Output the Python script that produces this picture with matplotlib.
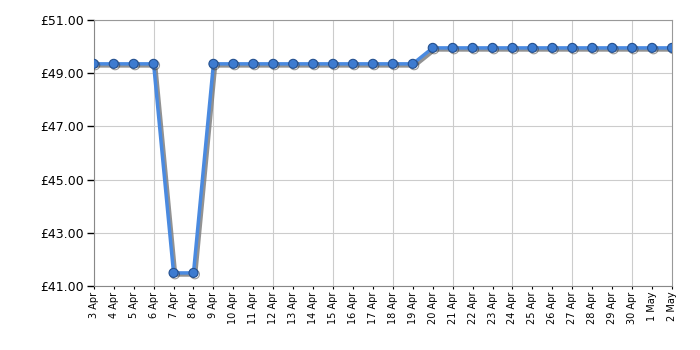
import matplotlib
matplotlib.use('Agg')
import matplotlib.pyplot as plt
import matplotlib.patheffects as pe
from matplotlib.ticker import FuncFormatter, FixedLocator

dates = ['3 Apr', '4 Apr', '5 Apr', '6 Apr', '7 Apr', '8 Apr', '9 Apr', '10 Apr',
         '11 Apr', '12 Apr', '13 Apr', '14 Apr', '15 Apr', '16 Apr', '17 Apr',
         '18 Apr', '19 Apr', '20 Apr', '21 Apr', '22 Apr', '23 Apr', '24 Apr',
         '25 Apr', '26 Apr', '27 Apr', '28 Apr', '29 Apr', '30 Apr', '1 May', '2 May']
prices = [49.35, 49.35, 49.35, 49.35, 41.49, 41.49, 49.35, 49.35,
          49.35, 49.35, 49.35, 49.35, 49.35, 49.35, 49.35,
          49.35, 49.35, 49.95, 49.95, 49.95, 49.95, 49.95,
          49.95, 49.95, 49.95, 49.95, 49.95, 49.95, 49.95, 49.95]
y_ticks = [41, 43, 45, 47, 49, 51]

plt.rcParams['font.family'] = 'DejaVu Sans'

fig = plt.figure(figsize=(7, 3.5), dpi=100)
ax = fig.add_axes([0.134, 0.183, 0.826, 0.760])

x = list(range(len(dates)))
ax.plot(x, prices, color='#4a8ae0', linewidth=2.5, zorder=3,
        path_effects=[pe.SimpleLineShadow(offset=(1.5, -1.5), shadow_color='#777777', alpha=0.8),
                      pe.Normal()])
ax.plot(x, prices, linestyle='none', marker='o', markersize=6.5,
        markerfacecolor='#3d7bd0', markeredgecolor='#24508f', markeredgewidth=0.8, zorder=4,
        path_effects=[pe.SimpleLineShadow(offset=(1.0, -1.0), shadow_color='#333333', alpha=0.5),
                      pe.Normal()])

ax.set_xlim(0, len(dates) - 1)
ax.set_ylim(41, 51)
ax.yaxis.set_major_locator(FixedLocator(y_ticks))
ax.yaxis.set_major_formatter(FuncFormatter(lambda v, _: f'£{v:.2f}'))
ax.set_xticks(x)
ax.set_xticklabels(dates, rotation=90, fontsize=7)
ax.tick_params(axis='x', length=2, width=0.8, pad=2)
ax.xaxis.set_minor_locator(FixedLocator(list(range(0, len(dates), 3))))
ax.tick_params(axis='x', which='minor', length=5, width=0.8)
ax.tick_params(axis='y', labelsize=9, length=5, width=1, pad=2)

ax.grid(True, axis='y', color='#cccccc', linewidth=0.8)
for i in range(0, len(dates), 3):
    ax.axvline(i, color='#cccccc', linewidth=0.8, zorder=0)
for s in ax.spines.values():
    s.set_color('#999999')
ax.spines['left'].set_color('#888888')
ax.spines['bottom'].set_color('#888888')
ax.set_axisbelow(True)

fig.savefig('out.png', dpi=100)
